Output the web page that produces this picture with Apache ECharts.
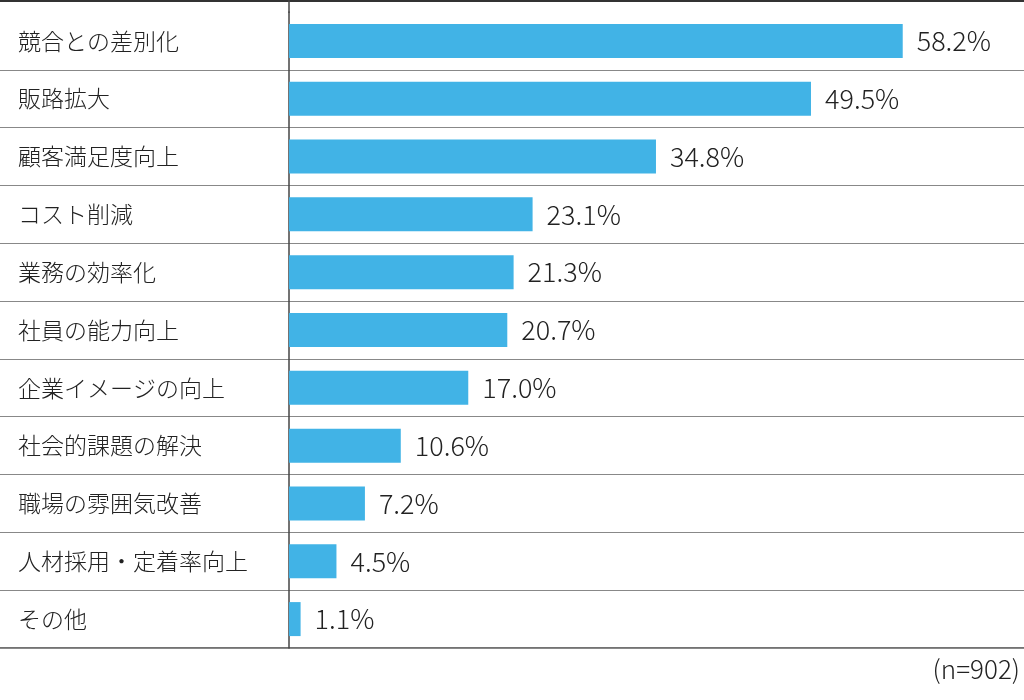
<!DOCTYPE html>
<html>
<head>
<meta charset="utf-8">
<script src="https://cdn.jsdelivr.net/npm/echarts@6/dist/echarts.min.js"></script>
<style>html,body{margin:0;padding:0;background:#fff}#c{width:1024px;height:700px}</style>
</head>
<body>
<div id="c"></div>
<script>
var categories = ['競合との差別化', '販路拡大', '顧客満足度向上', 'コスト削減', '業務の効率化', '社員の能力向上', '企業イメージの向上', '社会的課題の解決', '職場の雰囲気改善', '人材採用・定着率向上', 'その他'];
var values = [58.2, 49.5, 34.8, 23.1, 21.3, 20.7, 17.0, 10.6, 7.2, 4.5, 1.1];
var sampleNote = '(n=902)';

var font = '"Noto Sans CJK JP", "Noto Sans", sans-serif';
var chart = echarts.init(document.getElementById('c'));
chart.setOption({
    animation: false,
    grid: [
        { left: 289, right: 0, top: 12, bottom: 52 },
        { left: 0, right: 0, top: 12, bottom: 52 }
    ],
    xAxis: [
        { gridIndex: 0, type: 'value', min: 0, max: 69.7, show: false },
        { gridIndex: 1, type: 'value', min: 0, max: 1, show: false }
    ],
    yAxis: [
        {
            gridIndex: 0, type: 'category', inverse: true, data: categories,
            axisLine: { show: true, lineStyle: { color: '#444', width: 1.5 } },
            axisTick: { show: false },
            splitLine: { show: false },
            axisLabel: { margin: 271, align: 'left', fontSize: 23, fontWeight: 300, color: '#222', fontFamily: font }
        },
        {
            gridIndex: 1, type: 'category', inverse: true, data: categories,
            axisLine: { show: false }, axisTick: { show: false }, axisLabel: { show: false },
            splitLine: { show: true, lineStyle: { color: '#888', width: 1 } }
        }
    ],
    series: [{
        type: 'bar',
        xAxisIndex: 0, yAxisIndex: 0,
        data: values,
        barWidth: 34,
        itemStyle: { color: '#41b3e6' },
        label: {
            show: true, position: 'right', distance: 14,
            fontSize: 27, fontWeight: 300, color: '#222', fontFamily: font,
            formatter: function (p) { return p.value.toFixed(1) + '%'; }
        }
    }],
    graphic: [
        { type: 'line', z: 100, shape: { x1: 0, y1: 12, x2: 288, y2: 12 }, style: { stroke: '#fff', lineWidth: 3 } },
        { type: 'line', z: 100, shape: { x1: 290, y1: 12, x2: 1024, y2: 12 }, style: { stroke: '#fff', lineWidth: 3 } },
        { type: 'line', shape: { x1: 0, y1: 1, x2: 1024, y2: 1 }, style: { stroke: '#333', lineWidth: 2 } },
        { type: 'line', shape: { x1: 0, y1: 648, x2: 1024, y2: 648 }, style: { stroke: '#444', lineWidth: 1.5 } },
        { type: 'line', shape: { x1: 289, y1: 0, x2: 289, y2: 12 }, style: { stroke: '#444', lineWidth: 1.5 } },
        { type: 'text', right: 4, top: 656, style: { text: sampleNote, fontSize: 26, fontWeight: 300, fill: '#222', fontFamily: font } }
    ]
});
</script>
</body>
</html>
